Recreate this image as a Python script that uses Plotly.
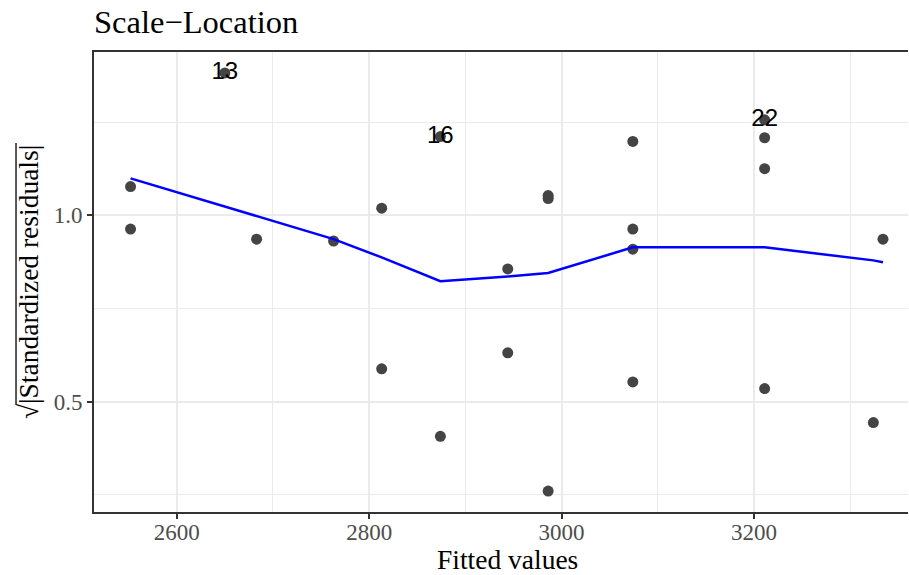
import plotly.graph_objects as go

# ---- data ----
fitted = [2552, 2552, 2683, 2763, 2813, 2813, 2874, 2874, 2944, 2944, 2986, 2986,
          2986, 3074, 3074, 3074, 3074, 3211, 3211, 3211, 3211, 3324, 3334, 2650]
sqrt_abs_std_resid = [1.077, 0.963, 0.936, 0.931, 1.019, 0.588, 1.211, 0.407, 0.856,
                      0.631, 1.053, 1.045, 0.260, 1.198, 0.963, 0.909, 0.553, 1.256,
                      1.208, 1.125, 0.535, 0.444, 0.936, 1.382]
point_labels = ["", "", "", "", "", "", "16", "", "", "", "", "",
                "", "", "", "", "", "22", "", "", "", "", "", "13"]

smooth_x = [2552, 2683, 2763, 2813, 2874, 2944, 2986, 3074, 3211, 3324, 3334]
smooth_y = [1.099, 0.997, 0.936, 0.887, 0.823, 0.836, 0.845, 0.914, 0.914, 0.879, 0.874]

x_ticks = [2600, 2800, 3000, 3200]
x_minor = [2700, 2900, 3100, 3300]
y_ticks = [0.5, 1.0]
y_tick_text = ["0.5", "1.0"]
y_minor = [0.25, 0.75, 1.25]

title_text = "Scale\u2212Location"
x_title = "Fitted values"
y_title = "\u221a|Standardized residuals|"

SERIF = "Liberation Serif, Times New Roman, serif"
SANS = "Liberation Sans, Arial, Helvetica, sans-serif"

fig = go.Figure()
fig.add_trace(go.Scatter(
    x=fitted, y=sqrt_abs_std_resid, mode="markers",
    marker=dict(color="#444444", size=11, line=dict(width=0)),
    showlegend=False, hoverinfo="x+y"))
fig.add_trace(go.Scatter(
    x=smooth_x, y=smooth_y, mode="lines",
    line=dict(color="#0000FF", width=2.5), showlegend=False))
fig.add_trace(go.Scatter(
    x=fitted, y=sqrt_abs_std_resid, mode="text", text=point_labels,
    textposition="middle center",
    textfont=dict(family=SANS, size=24, color="#000000"),
    showlegend=False, hoverinfo="skip"))

axis_common = dict(
    showgrid=True, gridcolor="#EBEBEB", gridwidth=2,
    zeroline=False, showline=True, linecolor="#333333", linewidth=2,
    ticks="outside", ticklen=5, tickwidth=2, tickcolor="#333333",
    tickfont=dict(family=SERIF, size=23, color="#4D4D4D"),
)

fig.update_layout(
    width=909, height=575,
    margin=dict(l=94, r=1, t=52, b=63),
    paper_bgcolor="white", plot_bgcolor="white",
    xaxis=dict(range=[2514, 3360], tickvals=x_ticks, mirror=True,
               ticklabelstandoff=-7,
               minor=dict(tickvals=x_minor, showgrid=True, gridcolor="#EBEBEB",
                          gridwidth=1.3, ticks=""),
               **axis_common),
    yaxis=dict(range=[0.204, 1.438], tickvals=y_ticks, ticktext=y_tick_text,
               mirror=False,
               minor=dict(tickvals=y_minor, showgrid=True, gridcolor="#EBEBEB",
                          gridwidth=1.3, ticks=""),
               **axis_common),
    annotations=[
        dict(text=title_text, xref="paper", yref="paper", x=-0.002, y=1.0652,
             xanchor="left", yanchor="middle", showarrow=False,
             font=dict(family=SERIF, size=32.5, color="#000000")),
        dict(text=x_title, xref="paper", yref="paper", x=0.5074, y=-0.1043,
             xanchor="center", yanchor="middle", showarrow=False,
             font=dict(family=SERIF, size=27.5, color="#000000")),
        dict(text=y_title, xref="paper", yref="paper", x=-0.0810, y=0.5,
             xanchor="center", yanchor="middle", textangle=-90, showarrow=False,
             font=dict(family=SERIF, size=27.5, color="#000000")),
    ],
    shapes=[
        dict(type="line", xref="paper", yref="paper",
             x0=-0.0958, x1=-0.0958, y0=0.802, y1=0.2326,
             line=dict(color="#000000", width=1.3)),
    ],
)

fig.write_html("out.html")
